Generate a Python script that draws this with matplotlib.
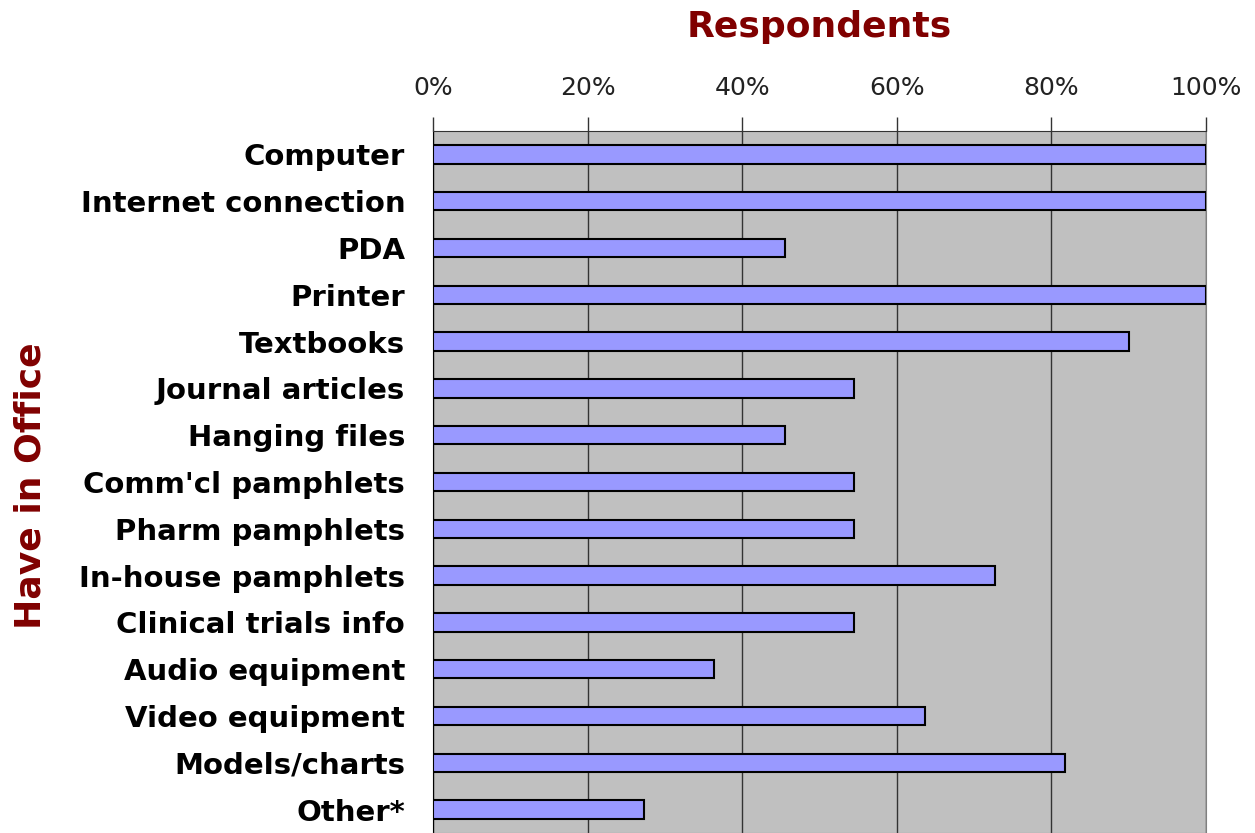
import matplotlib
matplotlib.use("Agg")
import matplotlib.pyplot as plt
from matplotlib.ticker import PercentFormatter

items = ["Computer", "Internet connection", "PDA", "Printer", "Textbooks",
         "Journal articles", "Hanging files", "Comm'cl pamphlets",
         "Pharm pamphlets", "In-house pamphlets", "Clinical trials info",
         "Audio equipment", "Video equipment", "Models/charts", "Other*"]
pct = [100, 100, 45.5, 100, 90, 54.5, 45.5, 54.5, 54.5, 72.7, 54.5,
       36.4, 63.6, 81.8, 27.3]

dark_red = "#800000"

fig = plt.figure(figsize=(12.55, 8.33), dpi=100)
ax = fig.add_axes([433 / 1255, 0, (1206 - 433) / 1255, 1 - 131 / 833])
ax.set_facecolor("#c0c0c0")

ypos = list(range(len(items)))
ax.barh(ypos, pct, height=0.39, color="#9999ff", edgecolor="black",
        linewidth=1.5, zorder=3)

ax.set_xlim(0, 100)
ax.set_ylim(len(items) - 0.5, -0.5)
ax.set_xticks(range(0, 101, 20))
ax.xaxis.set_major_formatter(PercentFormatter(decimals=0))
ax.xaxis.tick_top()
ax.tick_params(axis="x", direction="out", length=10, width=1, pad=12,
               labelsize=18, colors="#333333", labelcolor="#222222")
ax.set_yticks(ypos)
ax.set_yticklabels(items, fontsize=21, fontweight="bold")
ax.tick_params(axis="y", length=0, pad=20)
ax.grid(axis="x", color="#333333", linewidth=1, zorder=1)

for side in ["top", "right", "bottom"]:
    ax.spines[side].set_color("#808080")
ax.spines["top"].set_color("#333333")
ax.spines["left"].set_color("black")

fig.text(819 / 1255, 1 - 27 / 833, "Respondents", fontsize=26,
         fontweight="bold", color=dark_red, ha="center", va="center")
fig.text(31 / 1255, 1 - 486 / 833, "Have in Office", fontsize=26,
         fontweight="bold", color=dark_red, rotation=90,
         ha="center", va="center")

fig.savefig("out.png", dpi=100)
